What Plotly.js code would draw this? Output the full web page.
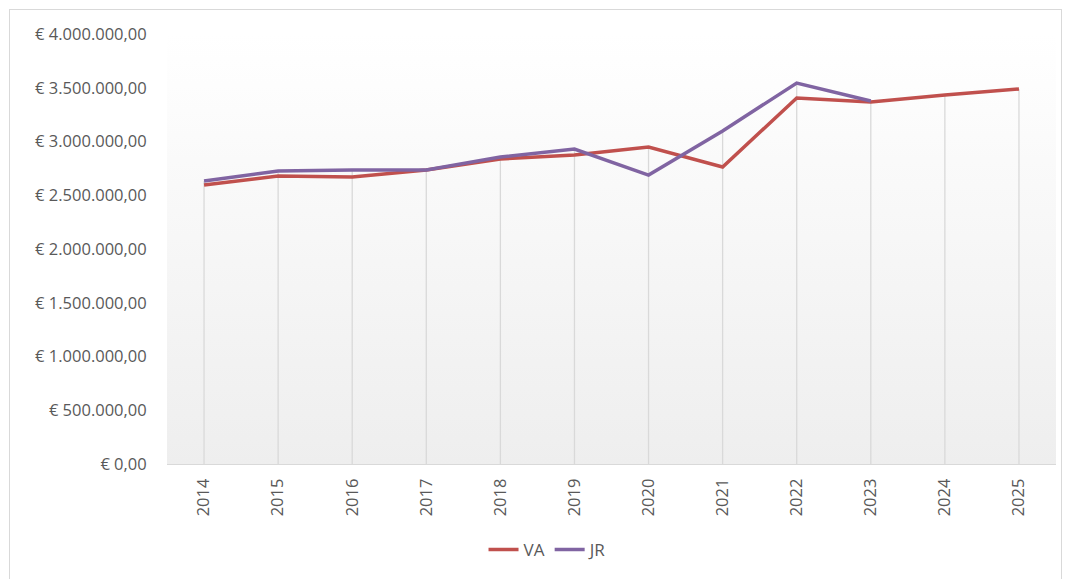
<!DOCTYPE html>
<html>
<head>
<meta charset="utf-8">
<script src="https://cdn.plot.ly/plotly-3.0.1.min.js"></script>
<style>
  html, body { margin: 0; padding: 0; background: #ffffff; }
  #wrap { position: relative; width: 1065px; height: 579px; overflow: hidden; }
  #chart { position: absolute; left: 0; top: 0; width: 1065px; height: 579px; }
  #frame { position: absolute; left: 9px; top: 9px; width: 1051px; height: 600px; border: 1px solid #d9d9d9; pointer-events: none; }
</style>
</head>
<body>
<div id="wrap">
  <div id="chart"></div>
  <div id="frame"></div>
</div>
<script>
const years = ['2014','2015','2016','2017','2018','2019','2020','2021','2022','2023','2024','2025'];
const vaValues = [2595000, 2679000, 2670000, 2735000, 2837000, 2874000, 2949000, 2763000, 3405000, 3367000, 3433000, 3488000];
const jrValues = [2633000, 2726000, 2735000, 2735000, 2856000, 2930000, 2688000, 3098000, 3544000, 3377000, null, null];
const yTicks = [0, 500000, 1000000, 1500000, 2000000, 2500000, 3000000, 3500000, 4000000];

function euro(v) {
  const parts = v.toFixed(2).split('.');
  const intPart = parts[0].replace(/\B(?=(\d{3})+(?!\d))/g, '.');
  return '\u20AC ' + intPart + ',' + parts[1];
}
const yTickText = yTicks.map(euro);

const svg = "<svg xmlns='http://www.w3.org/2000/svg' width='10' height='100' viewBox='0 0 10 100' preserveAspectRatio='none'>" +
  "<defs><linearGradient id='g' x1='0' y1='0' x2='0' y2='1'>" +
  "<stop offset='0' stop-color='rgb(255,255,255)'/><stop offset='1' stop-color='rgb(238,238,238)'/>" +
  "</linearGradient></defs><rect width='10' height='100' fill='url(#g)'/></svg>";
const bgSrc = 'data:image/svg+xml;charset=utf-8,' + encodeURIComponent(svg);

// drop lines from each category's highest value down to the axis (category index positions)
const dropLines = years.map((yr, i) => {
  const vals = [vaValues[i], jrValues[i]].filter(v => v !== null);
  return {
    type: 'line', xref: 'x', yref: 'y', layer: 'between',
    x0: i, x1: i, y0: 0, y1: Math.max(...vals),
    line: { color: '#d9d9d9', width: 1.3 }
  };
});

const fam = 'Open Sans, Noto Sans, sans-serif';

const traces = [
  { x: years, y: vaValues, name: 'VA', type: 'scatter', mode: 'lines',
    line: { color: '#c0504d', width: 3.5 }, hoverinfo: 'x+y' },
  { x: years, y: jrValues, name: 'JR', type: 'scatter', mode: 'lines',
    line: { color: '#8064a2', width: 3.5 }, hoverinfo: 'x+y' }
];

const layout = {
  width: 1065, height: 579,
  margin: { l: 167, r: 9, t: 34, b: 115 },
  paper_bgcolor: 'rgba(0,0,0,0)',
  plot_bgcolor: 'rgba(0,0,0,0)',
  font: { family: fam, size: 16, color: '#595959' },
  showlegend: true,
  legend: { orientation: 'h', x: 0.4286, xanchor: 'center', y: -0.2, yanchor: 'middle',
            font: { family: fam, size: 17, color: '#595959' } },
  xaxis: {
    type: 'category', categoryarray: years, range: [-0.5, 11.5],
    showgrid: false, zeroline: false,
    showline: true, linecolor: '#d9d9d9', linewidth: 1,
    ticks: 'outside', ticklen: 7, tickcolor: 'rgba(0,0,0,0)',
    tickangle: -90, tickfont: { family: fam, size: 16.5, color: '#595959' }
  },
  yaxis: {
    range: [0, 4000000], tickmode: 'array', tickvals: yTicks, ticktext: yTickText,
    showgrid: false, zeroline: false, showline: false,
    ticks: 'outside', ticklen: 16, tickcolor: 'rgba(0,0,0,0)',
    tickfont: { family: fam, size: 16.5, color: '#595959' }
  },
  images: [{ source: bgSrc, xref: 'paper', yref: 'paper', x: 0, y: 1, sizex: 1, sizey: 1,
             xanchor: 'left', yanchor: 'top', sizing: 'stretch', layer: 'below' }],
  shapes: dropLines
};

Plotly.newPlot('chart', traces, layout, { displayModeBar: false, staticPlot: true });
</script>
</body>
</html>
